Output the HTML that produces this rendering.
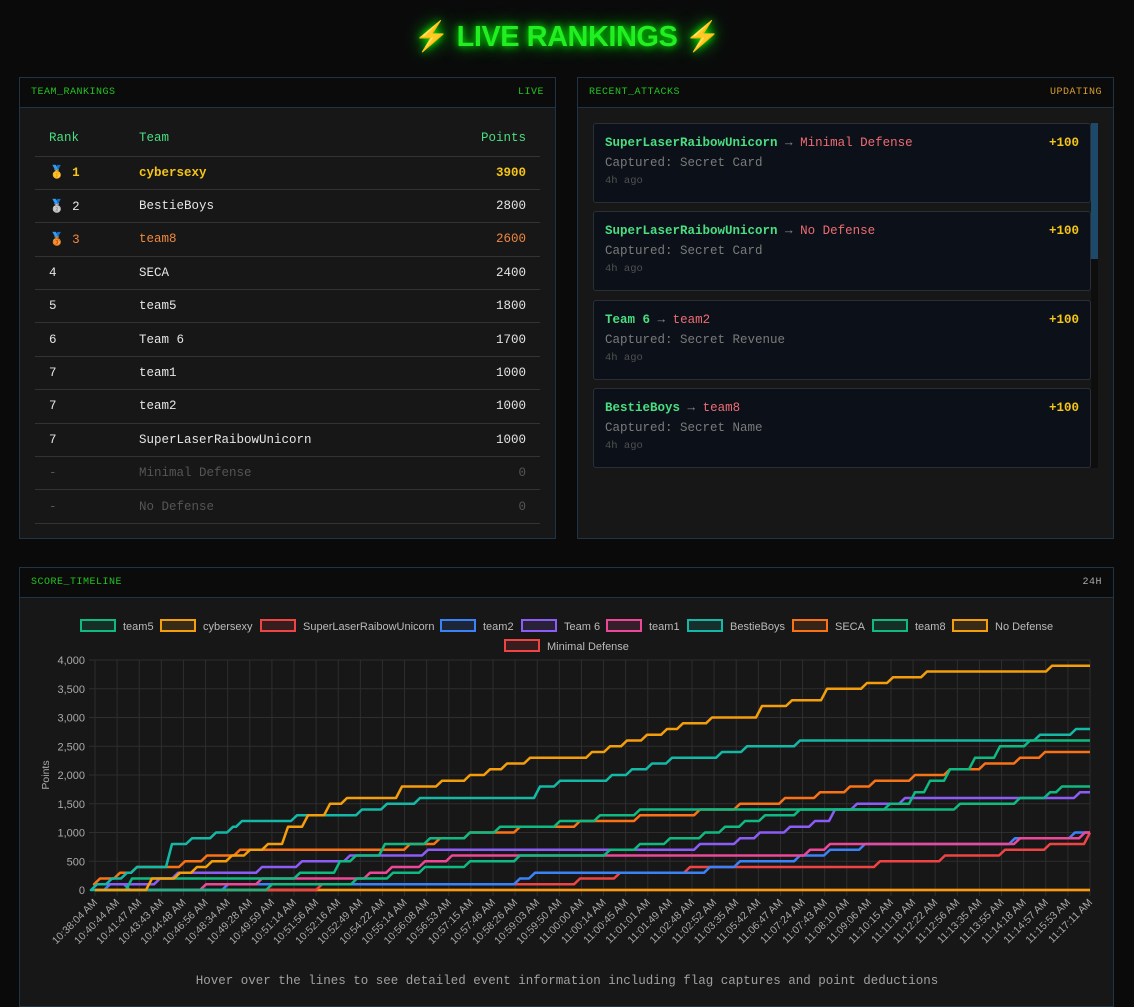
<!DOCTYPE html>
<html><head><meta charset="utf-8">
<style>
*{box-sizing:border-box;margin:0;padding:0}
body{width:1134px;height:996px;overflow:hidden;background:#0a0a0b;font-family:"Liberation Mono",monospace;color:#e5e5e5;position:relative}
h1{position:absolute;top:20px;left:0;width:1134px;text-align:center;font:bold 29px "Liberation Sans",sans-serif;color:#22ee22;text-shadow:0 0 8px #00ff00,0 0 18px #00cc00;letter-spacing:-0.5px}
.panel{position:absolute;border:1px solid #1f3444;background:#171717}
.ph{height:30px;background:#0b0b0b;border-bottom:1px solid #1f3444;display:flex;justify-content:space-between;align-items:center;padding:0 11px;font-size:10px;letter-spacing:0.5px;color:#22c322}
table{position:absolute;left:15px;top:33px;width:505px;border-collapse:collapse;font-size:12.5px}
td,th{height:33.4px;border-bottom:1px solid #333;text-align:left}
th{color:#4ade80;font-weight:normal;height:45px;padding-top:10px}
td:first-child,th:first-child{padding-left:14px;width:104px}
td:last-child,th:last-child{text-align:right;padding-right:14px}
.g td{color:#f5c518;font-weight:bold}.b td{color:#f0883e}.d td{color:#555}
.card{position:absolute;left:15px;width:498px;height:80px;background:#0c1119;border:1px solid #2a2f36;border-radius:3px;padding:12px 11px;font-size:12.5px}
.card .t{color:#4ade80;font-weight:bold}.card .r{color:#ef6b73}.card .a{color:#888}
.card .p{position:absolute;right:11px;top:12px;color:#f5c518;font-weight:bold}
.card .c{color:#7a7a7a;margin-top:6px}.card .h{color:#505050;font-size:10.5px;margin-top:5px}
</style></head><body>
<h1>⚡ LIVE RANKINGS ⚡</h1>
<div class="panel" style="left:19px;top:77px;width:537px;height:462px">
<div class="ph"><span>TEAM_RANKINGS</span><span>LIVE</span></div>
<table>
<tr><th>Rank</th><th>Team</th><th>Points</th></tr>
<tr class="g"><td>🥇 1</td><td>cybersexy</td><td>3900</td></tr>
<tr><td>🥈 2</td><td>BestieBoys</td><td>2800</td></tr>
<tr class="b"><td>🥉 3</td><td>team8</td><td>2600</td></tr>
<tr><td>4</td><td>SECA</td><td>2400</td></tr>
<tr><td>5</td><td>team5</td><td>1800</td></tr>
<tr><td>6</td><td>Team 6</td><td>1700</td></tr>
<tr><td>7</td><td>team1</td><td>1000</td></tr>
<tr><td>7</td><td>team2</td><td>1000</td></tr>
<tr><td>7</td><td>SuperLaserRaibowUnicorn</td><td>1000</td></tr>
<tr class="d"><td>-</td><td>Minimal Defense</td><td>0</td></tr>
<tr class="d"><td>-</td><td>No Defense</td><td>0</td></tr>
</table></div>
<div class="panel" style="left:577px;top:77px;width:537px;height:462px;overflow:hidden">
<div class="ph"><span>RECENT_ATTACKS</span><span style="color:#d69e2e">UPDATING</span></div>
<div style="position:absolute;left:513px;top:45px;width:7px;height:345px;background:#0e0e0e"><div style="height:136px;background:#1d4a6b"></div></div>
<div class="card" style="top:45px"><span class="t">SuperLaserRaibowUnicorn</span> <span class="a">→</span> <span class="r">Minimal Defense</span><span class="p">+100</span><div class="c">Captured: Secret Card</div><div class="h">4h ago</div></div>
<div class="card" style="top:133px"><span class="t">SuperLaserRaibowUnicorn</span> <span class="a">→</span> <span class="r">No Defense</span><span class="p">+100</span><div class="c">Captured: Secret Card</div><div class="h">4h ago</div></div>
<div class="card" style="top:222px"><span class="t">Team 6</span> <span class="a">→</span> <span class="r">team2</span><span class="p">+100</span><div class="c">Captured: Secret Revenue</div><div class="h">4h ago</div></div>
<div class="card" style="top:310px;height:80px"><span class="t">BestieBoys</span> <span class="a">→</span> <span class="r">team8</span><span class="p">+100</span><div class="c">Captured: Secret Name</div><div class="h">4h ago</div></div>
</div>
<div class="panel" style="left:19px;top:567px;width:1095px;height:440px">
<div class="ph"><span>SCORE_TIMELINE</span><span style="color:#aaa">24H</span></div>
</div>
<svg id="ch" width="1134" height="996" style="position:absolute;left:0;top:0" font-family="Liberation Sans, sans-serif"></svg>
<div style="position:absolute;top:974px;left:0;width:1134px;text-align:center;font-size:12.5px;color:#a0a0a0">Hover over the lines to see detailed event information including flag captures and point deductions</div>
<script>
var s=document.getElementById('ch'),h='';
var X0=95,X1=1090,Y0=890,K=230/4000;
function Y(v){return Y0-v*K}
var labels="10:38:04,10:40:44,10:41:47,10:43:43,10:44:48,10:46:56,10:48:34,10:49:28,10:49:59,10:51:14,10:51:56,10:52:16,10:52:49,10:54:22,10:55:14,10:56:08,10:56:53,10:57:15,10:57:46,10:58:26,10:59:03,10:59:50,11:00:00,11:00:14,11:00:45,11:01:01,11:01:49,11:02:48,11:02:52,11:03:35,11:05:42,11:06:47,11:07:24,11:07:43,11:08:10,11:09:06,11:10:15,11:11:18,11:12:22,11:12:56,11:13:35,11:13:55,11:14:18,11:14:57,11:15:53,11:17:11".split(',');
var n=labels.length,dx=(X1-X0)/(n-1);
for(var v=0;v<=4000;v+=500){h+='<line x1="89" x2="'+X1+'" y1="'+Y(v)+'" y2="'+Y(v)+'" stroke="#2e2e2e"/>';h+='<text x="85" y="'+(Y(v)+4)+'" text-anchor="end" font-size="11" fill="#aaa">'+v.toLocaleString('en-US')+'</text>';}
for(var i=0;i<n;i++){var x=X0+i*dx;h+='<line x1="'+x+'" x2="'+x+'" y1="660" y2="896" stroke="#2e2e2e"/>';h+='<text transform="translate('+(x+3)+',903) rotate(-45)" text-anchor="end" font-size="10.5" fill="#aaa">'+labels[i]+' AM</text>';}
h+='<text transform="translate(49,775) rotate(-90)" text-anchor="middle" font-size="10.5" fill="#aaa">Points</text>';
function S(c,st){var p=[],cur=st[0][1];p.push([X0,Y(cur)]);for(var k=1;k<st.length;k++){var x=st[k][0];p.push([x-6,Y(cur)]);cur=st[k][1];p.push([x,Y(cur)]);}p.push([X1,Y(cur)]);h+='<polyline fill="none" stroke="'+c+'" stroke-width="2.5" stroke-linejoin="round" points="'+p.map(function(q){return q[0].toFixed(1)+','+q[1].toFixed(1)}).join(' ')+'"/>';}
S('#ef4444',[[0,0]]);
S('#f59e0b',[[0,0]]);
S('#ef4444',[[0,0],[322,100],[580,200],[620,300],[690,400],[880,500],[945,600],[1005,700],[1050,800],[1090,1000]]);
S('#3b82f6',[[0,0],[110,100],[130,0],[228,100],[270,100],[520,200],[535,300],[710,400],[740,500],[800,600],[830,700],[865,800],[1015,900],[1075,1000]]);
S('#ec4899',[[0,0],[206,100],[262,200],[370,300],[392,400],[425,500],[452,600],[810,700],[830,800],[1020,900],[1085,1000]]);
S('#8b5cf6',[[0,100],[160,200],[178,300],[262,400],[302,500],[350,600],[428,700],[700,800],[740,900],[760,1000],[790,1100],[815,1200],[835,1400],[857,1500],[905,1600],[1080,1700]]);
S('#10b981',[[0,0],[272,100],[357,200],[393,300],[425,400],[470,500],[520,600],[610,700],[640,800],[670,900],[705,1000],[725,1100],[745,1200],[765,1300],[800,1400],[960,1500],[1020,1600],[1050,1700],[1062,1800]]);
S('#f97316',[[0,100],[100,200],[120,300],[137,400],[185,500],[207,600],[240,700],[410,800],[440,900],[470,1000],[520,1100],[580,1200],[640,1300],[700,1400],[740,1500],[785,1600],[820,1700],[850,1800],[875,1900],[915,2000],[950,2100],[985,2200],[1020,2300],[1045,2400]]);
S('#14b8a6',[[0,0],[97,100],[112,200],[127,300],[137,400],[172,800],[192,900],[216,1000],[233,1100],[242,1200],[297,1300],[362,1400],[387,1500],[420,1600],[540,1800],[560,1900],[612,2000],[632,2100],[652,2200],[672,2300],[722,2400],[747,2500],[800,2600],[1040,2700],[1076,2800]]);
S('#10b981',[[0,0],[132,200],[300,300],[340,500],[356,600],[385,800],[430,900],[470,1000],[500,1100],[560,1200],[600,1300],[640,1400],[890,1500],[915,1700],[930,1900],[950,2100],[975,2300],[1000,2500],[1030,2600]]);
S('#f59e0b',[[0,0],[152,200],[180,300],[197,400],[212,500],[232,600],[250,700],[268,800],[288,1100],[308,1300],[330,1500],[347,1600],[402,1800],[442,1900],[470,2000],[490,2100],[507,2200],[530,2300],[592,2400],[610,2500],[627,2600],[647,2700],[667,2800],[683,2900],[712,3000],[762,3200],[792,3300],[827,3500],[867,3600],[893,3700],[927,3800],[1052,3900]]);
var L=[["team5","#10b981",81,626],["cybersexy","#f59e0b",161,626],["SuperLaserRaibowUnicorn","#ef4444",261,626],["team2","#3b82f6",441,626],["Team 6","#8b5cf6",522,626],["team1","#ec4899",607,626],["BestieBoys","#14b8a6",688,626],["SECA","#f97316",793,626],["team8","#10b981",873,626],["No Defense","#f59e0b",953,626],["Minimal Defense","#ef4444",505,646]];
L.forEach(function(l){h+='<rect x="'+l[2]+'" y="'+(l[3]-6)+'" width="34" height="11" fill="'+l[1]+'" fill-opacity="0.15" stroke="'+l[1]+'" stroke-width="2"/>';h+='<text x="'+(l[2]+42)+'" y="'+(l[3]+4)+'" font-size="11" fill="#bbb">'+l[0]+'</text>';});
s.innerHTML=h;
</script>
</body></html>
